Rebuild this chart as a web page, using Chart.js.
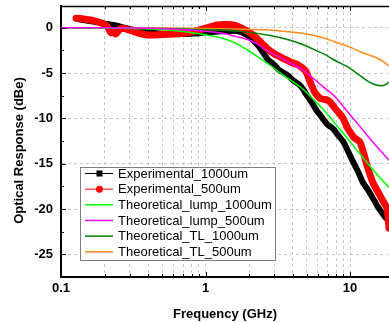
<!DOCTYPE html>
<html><head><meta charset="utf-8">
<script src="https://cdn.jsdelivr.net/npm/chart.js@4/dist/chart.umd.min.js"></script>
<style>html,body{margin:0;padding:0;background:#fff;overflow:hidden}#wrap{position:relative;width:389px;height:322px}</style>
</head><body><div id="wrap"><canvas id="c" width="389" height="322"></canvas></div>
<script>
// ---- data (frequency in GHz, response in dBe) ----
const expFreq1000 = [0.13,0.15,0.18,0.2,0.23,0.26,0.3,0.35,0.4,0.5,0.6,0.7,0.8,0.9,1.0,1.15,1.3,1.5,1.65,1.8,2.0,2.2,2.4,2.7,3.0,3.2,3.5,3.8,4.1,4.4,4.7,5.0,5.3,5.6,5.9,6.2,6.6,7.0,7.6,8.2,9.0,9.8,10.5,11.3,12.3,13.2,14.4,15.5,16.6,17.5,18.6];
const expResp1000 = [0.95,0.8,0.6,0.45,0.3,0.1,-0.15,-0.35,-0.5,-0.65,-0.7,-0.7,-0.65,-0.6,-0.5,-0.45,-0.4,-0.35,-0.35,-0.55,-0.95,-1.6,-2.3,-3.5,-4.1,-4.6,-5.0,-5.4,-5.9,-6.2,-6.7,-7.4,-8.0,-8.6,-9.2,-9.6,-10.2,-10.7,-11.1,-11.8,-12.6,-13.8,-14.8,-15.8,-17.1,-17.8,-18.8,-19.7,-20.4,-20.9,-21.3];
const expFreq500 = [0.127,0.14,0.16,0.18,0.198,0.21,0.221,0.23,0.239,0.25,0.259,0.275,0.29,0.33,0.4,0.5,0.6,0.7,0.78,0.9,1.0,1.1,1.21,1.35,1.46,1.6,1.75,1.92,2.05,2.21,2.45,2.72,3.0,3.19,3.56,3.9,4.38,4.89,5.1,5.3,5.5,5.74,6.21,6.6,7.0,7.28,7.88,8.4,8.95,9.5,10,10.8,11.7,12.4,13.1,14.4,16.1,17.0,18.0,18.6];
const expResp500 = [1.05,1.0,0.85,0.65,0.4,0.1,-0.55,-0.45,-0.7,-0.35,-0.05,-0.1,-0.2,-0.5,-0.8,-0.75,-0.7,-0.6,-0.5,-0.25,-0.05,0.15,0.3,0.35,0.35,0.25,0.0,-0.3,-0.6,-1.0,-1.7,-2.4,-2.9,-3.1,-3.5,-3.8,-4.1,-4.7,-5.3,-6.0,-6.6,-7.2,-7.8,-7.9,-8.0,-8.2,-8.9,-9.4,-10.0,-10.9,-11.5,-12.2,-12.6,-13.8,-15.2,-17.1,-18.5,-19.2,-19.9,-22.1];
const lumpFreq1000 = [0.1,0.2,0.3,0.5,0.7,1.0,1.31,1.61,1.92,2.3,2.72,3.5,4.66,5.5,6.51,8.5,10.5,13,16,18.6];
const lumpResp1000 = [0,-0.03,-0.08,-0.22,-0.42,-0.78,-1.15,-1.7,-2.4,-3.2,-4.0,-5.3,-6.7,-7.8,-9.0,-11.2,-13.0,-14.8,-16.5,-17.6];
const lumpFreq500 = [0.1,0.3,0.5,0.78,1.0,1.31,1.61,2.0,2.25,2.72,3.3,3.86,4.66,5.3,6.5,7.64,10,12,14.5,18.6];
const lumpResp500 = [0,-0.03,-0.1,-0.25,-0.4,-0.6,-0.95,-1.35,-1.75,-2.6,-3.3,-3.9,-4.6,-5.3,-6.5,-7.4,-9.6,-11.1,-12.7,-14.6];
const tlFreq1000 = [0.1,0.5,1.0,1.72,2.8,3.8,4.8,6.0,6.8,7.64,9.84,11.1,13,14.5,15.5,16.5,17.5,18.6];
const tlResp1000 = [0,-0.08,-0.22,-0.4,-0.85,-1.35,-1.9,-2.6,-3.0,-3.5,-4.4,-5.0,-5.8,-6.2,-6.35,-6.4,-6.3,-6.0];
const tlFreq500 = [0.1,0.5,1.0,1.6,2.72,3.8,4.66,6.51,8.0,9.84,12,13.5,16.1,18.6];
const tlResp500 = [0,-0.02,-0.08,-0.15,-0.25,-0.45,-0.6,-1.1,-1.6,-2.1,-2.7,-3.0,-3.5,-4.2];

const seriesNames = ['Experimental_1000um','Experimental_500um','Theoretical_lump_1000um','Theoretical_lump_500um','Theoretical_TL_1000um','Theoretical_TL_500um'];
const xTickValues = [0.1,0.2,0.3,0.4,0.5,0.6,0.7,0.8,0.9,1,2,3,4,5,6,7,8,9,10];
const xTickLabels = ['0.1','1','10'];
const yTickValues = [0,-5,-10,-15,-20,-25];
const yMinorTickValues = [-2.5,-7.5,-12.5,-17.5,-22.5,-27.5];
const xTitle = 'Frequency (GHz)';
const yTitle = 'Optical Response (dBe)';

const pts = (fx, fy) => fx.map((f, i) => ({x: f, y: fy[i]}));
const FONT = "'Liberation Sans', Arial, sans-serif";
const colors = ['#000000','#ff0000','#00ff00','#ff00ff','#008000','#ff8c1a'];

const datasets = [
  {label: seriesNames[0], data: pts(expFreq1000, expResp1000), borderColor: colors[0], borderWidth: 6, order: 3, tension: 0.2},
  {label: seriesNames[1], data: pts(expFreq500, expResp500), borderColor: colors[1], borderWidth: 7, order: 2, tension: 0.2},
  {label: seriesNames[2], data: pts(lumpFreq1000, lumpResp1000), borderColor: colors[2], borderWidth: 1.5, order: 1, cubicInterpolationMode: 'monotone'},
  {label: seriesNames[3], data: pts(lumpFreq500, lumpResp500), borderColor: colors[3], borderWidth: 1.5, order: 0, cubicInterpolationMode: 'monotone'},
  {label: seriesNames[4], data: pts(tlFreq1000, tlResp1000), borderColor: colors[4], borderWidth: 1.5, order: 1, cubicInterpolationMode: 'monotone'},
  {label: seriesNames[5], data: pts(tlFreq500, tlResp500), borderColor: colors[5], borderWidth: 1.5, order: 1, cubicInterpolationMode: 'monotone'}
];
datasets.forEach(d => { d.pointRadius = 0; d.fill = false; d.borderCapStyle = 'round'; d.borderJoinStyle = 'round'; });

const inTicks = {
  id: 'inTicks',
  afterDraw(chart) {
    const {ctx, chartArea: a, scales: {x, y}} = chart;
    ctx.save();
    ctx.strokeStyle = '#000';
    ctx.lineWidth = 1.5;
    ctx.beginPath(); ctx.moveTo(a.left, a.top + 0.5); ctx.lineTo(a.right, a.top + 0.5); ctx.stroke();
    ctx.lineWidth = 1;
    ctx.beginPath();
    xTickValues.forEach(v => {
      const px = Math.round(x.getPixelForValue(v)) + 0.5;
      const major = (v === 0.1 || v === 1 || v === 10);
      const len = major ? 5 : 3;
      ctx.moveTo(px, a.bottom); ctx.lineTo(px, a.bottom - len);
      ctx.moveTo(px, a.top); ctx.lineTo(px, a.top + len);
    });
    yTickValues.forEach(v => {
      const py = Math.round(y.getPixelForValue(v)) + 0.5;
      ctx.moveTo(a.left, py); ctx.lineTo(a.left + 5, py);
    });
    yMinorTickValues.forEach(v => {
      const py = Math.round(y.getPixelForValue(v)) + 0.5;
      ctx.moveTo(a.left, py); ctx.lineTo(a.left + 3, py);
    });
    ctx.stroke();
    ctx.restore();
  }
};

const boxLegend = {
  id: 'boxLegend',
  afterDatasetsDraw(chart) {
    const ctx = chart.ctx;
    const bx = 80.5, by = 167.5, bw = 195, bh = 93;
    ctx.save();
    ctx.fillStyle = '#fff';
    ctx.fillRect(bx, by, bw, bh);
    ctx.strokeStyle = '#7f7f7f';
    ctx.lineWidth = 1;
    ctx.strokeRect(bx, by, bw, bh);
    ctx.font = '13px ' + FONT;
    ctx.textBaseline = 'middle';
    ctx.textAlign = 'left';
    seriesNames.forEach((name, i) => {
      const yy = 173.5 + i * 15.65;
      ctx.strokeStyle = colors[i];
      ctx.lineWidth = i < 2 ? 1 : 1.5;
      ctx.beginPath(); ctx.moveTo(85, yy); ctx.lineTo(113, yy); ctx.stroke();
      if (i === 0) { ctx.fillStyle = colors[0]; ctx.fillRect(96.5, yy - 3, 6, 6); }
      if (i === 1) { ctx.fillStyle = colors[1]; ctx.beginPath(); ctx.arc(99.5, yy, 3.5, 0, Math.PI * 2); ctx.fill(); }
      ctx.fillStyle = '#000';
      ctx.fillText(name, 118, yy + 0.5);
    });
    ctx.restore();
  }
};

const tickFont = {family: FONT, size: 13, weight: 'bold'};
const gridOpts = {color: '#c8c8c8', lineWidth: 1, drawTicks: false};
const borderOpts = {display: true, color: '#000', width: 2, dash: [3, 3]};

new Chart(document.getElementById('c'), {
  type: 'line',
  data: {datasets},
  options: {
    responsive: false,
    animation: false,
    devicePixelRatio: 1,
    layout: {padding: {top: 6, right: 0, left: 0, bottom: 0}},
    plugins: {legend: {display: false}, tooltip: {enabled: false}},
    scales: {
      x: {
        type: 'logarithmic', min: 0.1, max: 18.6,
        afterBuildTicks: s => { s.ticks = xTickValues.map(v => ({value: v})); },
        afterFit: s => { s.height = 45; s.paddingLeft = 0; s.paddingRight = 0; },
        ticks: {
          autoSkip: false, maxRotation: 0, padding: 4, color: '#000', font: tickFont,
          callback: v => { const t = String(Math.round(v * 10) / 10); return xTickLabels.includes(t) ? t : ''; }
        },
        grid: gridOpts, border: borderOpts,
        title: {display: true, text: xTitle, color: '#000', font: tickFont, padding: {top: 1, bottom: 0}}
      },
      y: {
        type: 'linear', min: -27.5, max: 2.4,
        afterBuildTicks: s => { s.ticks = yTickValues.map(v => ({value: v})); },
        afterFit: s => { s.width = 61; s.paddingTop = 0; s.paddingBottom = 0; },
        ticks: {padding: 8, color: '#000', font: tickFont, callback: v => String(v)},
        grid: gridOpts, border: borderOpts,
        title: {display: true, text: yTitle + '     ', color: '#000', font: tickFont, padding: {top: 12, bottom: 0}}
      }
    }
  },
  plugins: [inTicks, boxLegend]
});
</script></body></html>
